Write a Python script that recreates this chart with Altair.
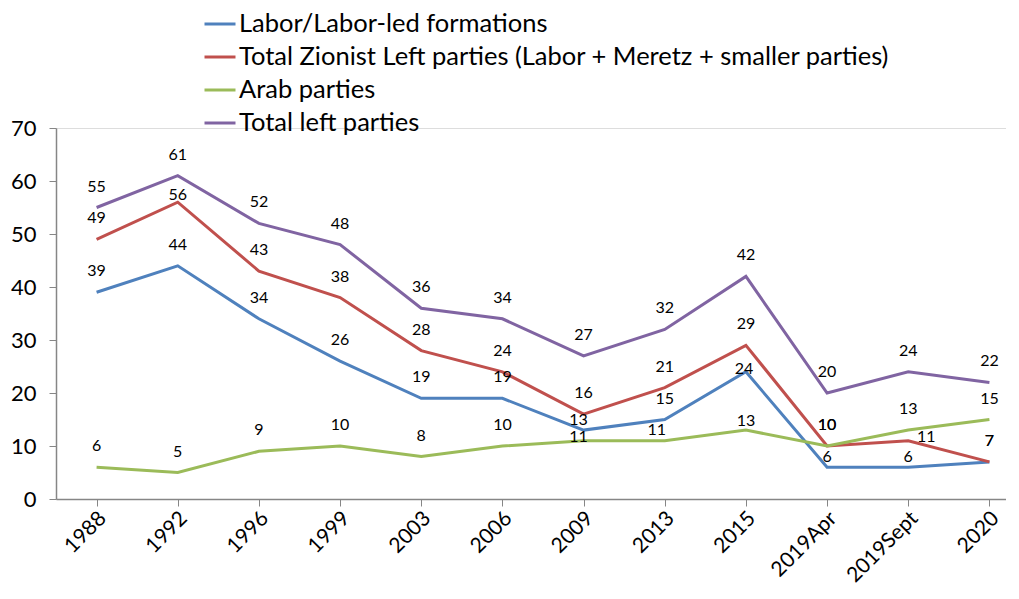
import altair as alt
import pandas as pd

years = ["1988", "1992", "1996", "1999", "2003", "2006", "2009", "2013", "2015",
         "2019Apr", "2019Sept", "2020"]
labor = [39, 44, 34, 26, 19, 19, 13, 15, 24, 6, 6, 7]
zionist_left = [49, 56, 43, 38, 28, 24, 16, 21, 29, 10, 11, 7]
arab = [6, 5, 9, 10, 8, 10, 11, 11, 13, 10, 13, 15]
total_left = [55, 61, 52, 48, 36, 34, 27, 32, 42, 20, 24, 22]

series_names = [
    "Labor/Labor-led formations",
    "Total Zionist Left parties (Labor + Meretz + smaller parties)",
    "Arab parties",
    "Total left parties",
]
series_keys = ["labor", "zionist", "arab", "total"]
series_values = [labor, zionist_left, arab, total_left]
colors = ["#4F81BD", "#C0504D", "#9BBB59", "#8064A2"]

rows = []
for name, key, vals in zip(series_names, series_keys, series_values):
    for y, v in zip(years, vals):
        rows.append({"year": y, "seats": v, "series": name, "key": key + "|" + y})
df = pd.DataFrame(rows)

FONT = "Lato"
PLOT_W = 950
BAND_RANGE = 974
PLOT_H = 371

x_enc = alt.X("year:N", sort=years,
              scale=alt.Scale(domain=years, range=[0, BAND_RANGE], paddingInner=0, paddingOuter=0),
              axis=alt.Axis(title=None, bandPosition=0, labelOffset=6, labelAngle=-45,
                            labelAlign="right", labelBaseline="middle", labelPadding=9,
                            tickSize=7, labelFontSize=21, labelColor="#000000",
                            domainColor="#868686", tickColor="#868686", domainWidth=1.5,
                            labelFont=FONT, grid=False))
y_enc = alt.Y("seats:Q", scale=alt.Scale(domain=[0, 70], nice=False),
              axis=alt.Axis(title=None, values=list(range(0, 71, 10)), tickSize=7,
                            labelPadding=13, labelFontSize=22, labelColor="#000000",
                            domainColor="#868686", tickColor="#868686", domainWidth=1.5,
                            labelFont=FONT, grid=False))

color_enc = alt.Color("series:N", sort=series_names,
                      scale=alt.Scale(domain=series_names, range=colors),
                      legend=alt.Legend(title=None, orient="none", legendX=147, legendY=-121,
                                        direction="vertical", symbolType="stroke",
                                        symbolSize=961, symbolStrokeWidth=3,
                                        labelFontSize=25.5, labelFont=FONT, labelColor="#000000",
                                        labelOffset=2, rowPadding=2, padding=0,
                                        labelLimit=900))

base = alt.Chart(df)
lines = base.mark_line(strokeWidth=3).encode(x=x_enc, y=y_enc, color=color_enc)

# data label placement: (dx, dy) for labels not placed straight above the point
special = {
    "labor|2009": (-5, -10), "labor|2015": (-2, -3),
    "labor|2019Apr": (0, -10), "labor|2019Sept": (0, -10),
    "zionist|1992": (0, -7), "zionist|2019Sept": (18, -4),
    "arab|2009": (-5, -4), "arab|2013": (-8, -11), "arab|2015": (0, -9),
}

def text_layer(dx, dy):
    return base.mark_text(fontSize=16, font=FONT, color="#000000", dx=dx, dy=dy).encode(
        x=alt.X("year:N", sort=years), y="seats:Q", text="seats:Q"
    )

text_layers = [text_layer(0, -21).transform_filter(
    ~alt.FieldOneOfPredicate(field="key", oneOf=list(special.keys())))]
for k, (dx, dy) in special.items():
    text_layers.append(text_layer(dx, dy).transform_filter(alt.datum.key == k))

chart = alt.layer(lines, *text_layers).properties(
    width=PLOT_W, height=PLOT_H,
    autosize=alt.AutoSizeParams(type="none"),
    padding={"left": 48, "top": 120, "right": 0, "bottom": 87},
).configure_view(stroke=None).configure(font=FONT)

chart.save("out.html", embed_options={"renderer": "svg", "actions": False})
